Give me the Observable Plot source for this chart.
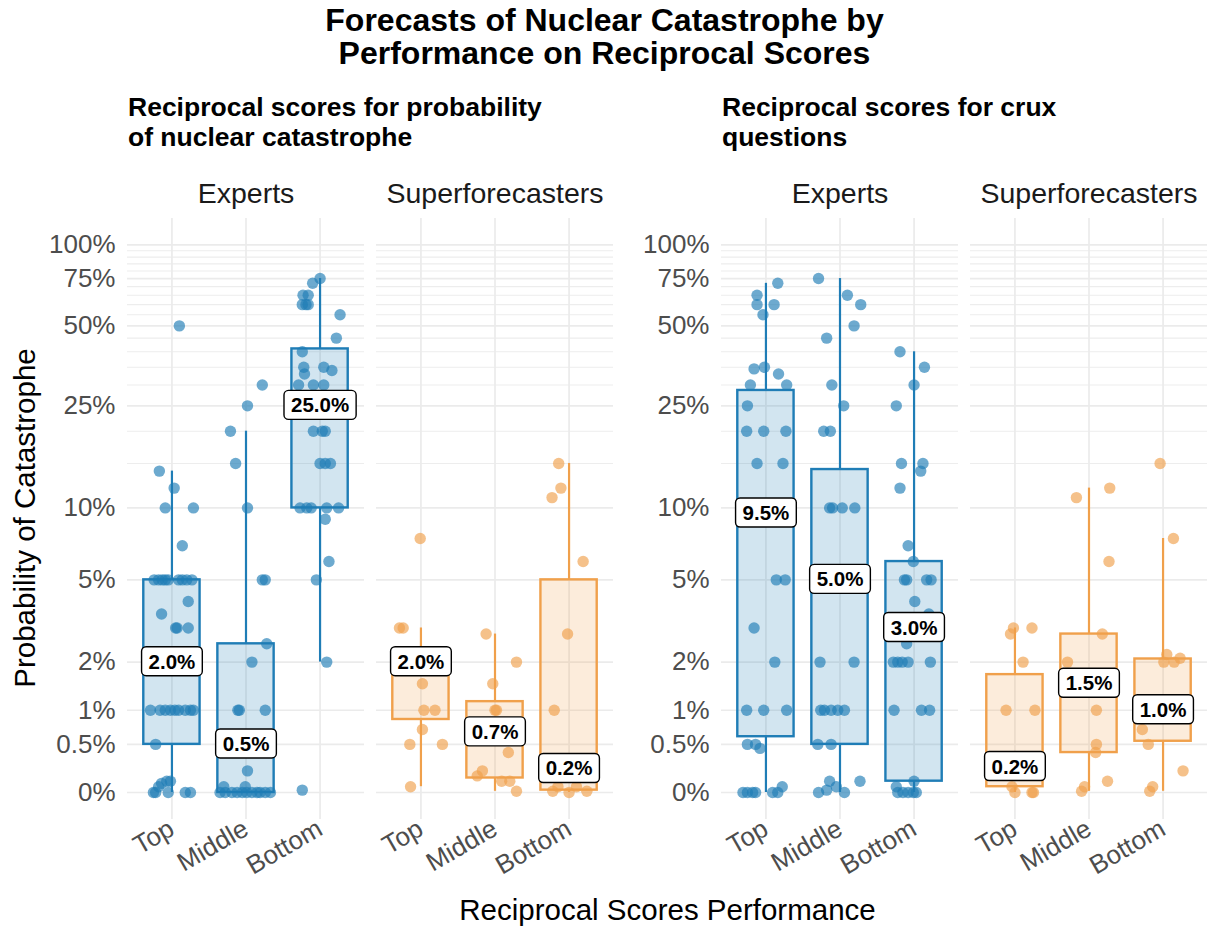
<!DOCTYPE html>
<html>
<head>
<meta charset="utf-8">
<script src="https://cdn.jsdelivr.net/npm/d3@7"></script>
<script src="https://cdn.jsdelivr.net/npm/@observablehq/plot@0.6"></script>
<style>
  body { margin: 0; background: #fff; font-family: "Liberation Sans", Arial, Helvetica, sans-serif; }
  #root { position: relative; width: 1209px; height: 928px; overflow: hidden; background: #fff; }
  .abs { position: absolute; }
  #title { left: 0; width: 1209px; top: 4px; text-align: center; font-weight: bold; font-size: 32px; line-height: 33px; color: #000; }
  .sub { top: 92px; font-weight: bold; font-size: 26.5px; line-height: 30px; color: #000; white-space: nowrap; }
  #ytitle { left: 25px; top: 518px; transform: translate(-50%, -50%) rotate(-90deg); font-size: 29.5px; white-space: nowrap; color: #000; }
  #xtitle { left: 127px; width: 1081px; top: 894px; text-align: center; font-size: 29.5px; line-height: 32px; color: #000; }
</style>
</head>
<body>
<div id="root">
  <div id="title" class="abs">Forecasts of Nuclear Catastrophe by<br>Performance on Reciprocal Scores</div>
  <div class="abs sub" style="left:128px">Reciprocal scores for probability<br>of nuclear catastrophe</div>
  <div class="abs sub" style="left:722px">Reciprocal scores for crux<br>questions</div>
  <div id="panelA" class="abs" style="left:0px; top:160px"></div>
  <div id="panelB" class="abs" style="left:594px; top:160px"></div>
  <div id="ytitle" class="abs">Probability of Catastrophe</div>
  <div id="xtitle" class="abs">Reciprocal Scores Performance</div>
</div>
<script>
// ---------- data ----------
const categories = ["Top", "Middle", "Bottom"];
const groups = ["Experts", "Superforecasters"];
const yTicks = [0, 0.5, 1, 2, 5, 10, 25, 50, 75, 100];
const yMinor = [15, 20, 30, 35, 40, 45, 55, 60, 65, 70, 80, 85, 90, 95];

// points: [forecast %, horizontal jitter in category units]
const probExpertsTop = [[50,0.10],[14,-0.17],[12,0.03],[10,-0.09],[10,0.29],[7,0.14],[5,-0.24],[5,-0.18],[5,-0.13],[5,-0.09],[5,-0.05],[5,0.09],[5,0.14],[5,0.20],[5,0.27],[4,0.22],[3.5,-0.14],[3,0.05],[3,0.07],[3,0.22],[2,0.0],[1,-0.29],[1,-0.16],[1,-0.09],[1,-0.02],[1,0.04],[1,0.09],[1,0.18],[1,0.25],[1,0.29],[0.5,-0.22],[0.1,-0.07],[0.1,-0.02],[0.08,-0.14],[0.05,-0.18],[0,-0.25],[0,-0.22],[0,-0.05],[0,0.18],[0,0.25]];
const probExpertsMiddle = [[30,0.22],[25,0.02],[20,-0.21],[15,-0.14],[10,0.02],[5,0.22],[5,0.26],[2.5,0.28],[2,0.08],[1,-0.11],[1,-0.09],[1,0.26],[0.5,0.0],[0.2,0.02],[0.05,-0.30],[0.05,-0.01],[0,-0.35],[0,-0.28],[0,-0.19],[0,-0.12],[0,-0.05],[0,0.01],[0,0.08],[0,0.15],[0,0.19],[0,0.26],[0,0.33]];
const probExpertsBottom = [[75,0.0],[72,-0.10],[65,-0.23],[65,-0.16],[60,-0.24],[60,-0.19],[60,-0.16],[55,0.27],[45,0.22],[40,-0.24],[35,-0.22],[35,0.05],[34,0.16],[33,-0.21],[30,-0.29],[30,-0.09],[30,0.05],[25,-0.10],[20,-0.09],[20,0.03],[20,0.07],[15,0.0],[15,0.07],[15,0.14],[10,-0.27],[10,-0.18],[10,-0.12],[10,0.09],[10,0.25],[9,0.07],[6,0.12],[5,-0.05],[2,0.09],[0.02,-0.24]];
const probSuperTop = [[7.5,-0.01],[3,-0.29],[3,-0.24],[2,0.09],[1.5,0.02],[1,0.04],[1,0.19],[0.7,0.02],[0.5,-0.15],[0.5,0.29],[0.05,-0.14]];
const probSuperMiddle = [[2.8,-0.12],[2,0.29],[1.5,-0.03],[1,0.0],[1,0.02],[0.7,0.06],[0.4,0.18],[0.2,-0.17],[0.15,-0.24],[0.1,0.09],[0.1,0.20],[0.01,0.29]];
const probSuperBottom = [[15,-0.14],[12,-0.11],[11,-0.23],[6,0.19],[2.8,-0.02],[1,-0.20],[0.2,0.0],[0.01,-0.22],[0.05,-0.15],[0,0.0],[0.05,0.10],[0.01,0.24]];

const cruxExpertsTop = [[72,0.16],[65,-0.12],[60,-0.12],[60,0.11],[55,-0.04],[35,-0.02],[34.5,-0.16],[33,0.17],[30,-0.21],[30,0.28],[25,-0.25],[20,-0.26],[20,-0.03],[20,0.27],[15,-0.12],[15,0.23],[9.5,0.0],[5,0.14],[5,0.26],[3,-0.16],[2,0.12],[1,-0.26],[1,-0.03],[1,0.28],[0.5,-0.25],[0.5,-0.14],[0.45,-0.08],[0.05,0.22],[0,-0.31],[0,-0.25],[0,-0.18],[0,-0.14],[0,0.09],[0,0.16]];
const cruxExpertsMiddle = [[75,-0.29],[65,0.10],[60,0.28],[50,0.19],[45,-0.18],[30,-0.11],[25,0.05],[20,-0.22],[20,-0.13],[10,-0.14],[10,-0.10],[10,0.03],[10,0.20],[5,0.0],[2,-0.27],[2,0.19],[1,-0.26],[1,-0.21],[1,-0.12],[1,-0.03],[1,0.06],[0.5,-0.30],[0.5,-0.12],[0.1,-0.14],[0.05,-0.05],[0.1,0.27],[0,-0.29],[0.02,-0.18],[0,0.06]];
const cruxExpertsBottom = [[40,-0.19],[35,0.14],[30,0.0],[25,-0.24],[15,-0.17],[15,0.12],[14,0.09],[12,-0.19],[7,-0.08],[6,-0.01],[5,-0.13],[5,-0.10],[5,0.17],[5,0.23],[4,0.01],[3.5,0.20],[3,0.0],[2.5,-0.10],[2,-0.28],[2,-0.22],[2,-0.16],[2,-0.08],[2,0.22],[1,-0.27],[1,0.10],[1,0.21],[0.1,0.0],[0.05,-0.24],[0,-0.22],[0,-0.15],[0,-0.08],[0,-0.01],[0,0.03]];
const cruxSuperTop = [[3,-0.02],[3,0.23],[2.8,-0.06],[2,0.11],[1,-0.12],[1,0.27],[0.24,0.0],[0.05,-0.04],[0,0.0],[0,0.23],[0,0.25]];
const cruxSuperMiddle = [[12,0.28],[11,-0.17],[6,0.27],[2.8,0.18],[2,-0.29],[1.5,0.0],[1,0.10],[0.5,0.10],[0.4,0.09],[0.1,0.25],[0.05,-0.06],[0.01,-0.10]];
const cruxSuperBottom = [[15,-0.04],[7.5,0.14],[2.2,0.05],[2.1,0.23],[2,0.01],[2,0.15],[1,0.0],[0.7,-0.28],[0.5,-0.20],[0.2,0.27],[0.05,-0.14],[0.01,-0.18]];

// box statistics: [group, category, whisker low, Q1, median, Q3, whisker high] (in %)
const probStats = [
  ["Experts", "Top", 0, 0.5, 2.0, 5, 14],
  ["Experts", "Middle", 0, 0, 0.5, 2.5, 20],
  ["Experts", "Bottom", 2, 10, 25, 41, 75],
  ["Superforecasters", "Top", 0.05, 0.85, 2.0, 2.2, 3],
  ["Superforecasters", "Middle", 0.01, 0.13, 0.66, 1.15, 2.8],
  ["Superforecasters", "Bottom", 0, 0.02, 0.22, 5, 15]
];
const cruxStats = [
  ["Experts", "Top", 0, 0.6, 9.5, 28.6, 72],
  ["Experts", "Middle", 0, 0.5, 5.0, 14.2, 75],
  ["Experts", "Bottom", 0, 0.1, 3.0, 6, 40],
  ["Superforecasters", "Top", 0, 0.05, 0.24, 1.7, 3],
  ["Superforecasters", "Middle", 0.01, 0.4, 1.5, 2.8, 12],
  ["Superforecasters", "Bottom", 0.01, 0.54, 1.0, 2.08, 7.5]
];

const groupColors = ["#1f7db6", "#f0a04b"];

// ---------- drawing ----------
const FONT = '"Liberation Sans", Arial, Helvetica, sans-serif';
const boxHalf = 0.38;

function buildPanel(stats, pointSets) {
  const pts = [];
  for (const [group, cat, arr] of pointSets) {
    const i = categories.indexOf(cat);
    for (const [v, j] of arr) pts.push({group, x: i + j, v});
  }
  const st = stats.map(([group, cat, lo, q1, med, q3, hi]) =>
    ({group, idx: categories.indexOf(cat), lo, q1, med, q3, hi}));
  return Plot.plot({
    width: 614, height: 720,
    marginLeft: 127, marginRight: 0, marginTop: 58, marginBottom: 61,
    style: {fontFamily: FONT, background: "transparent", overflow: "visible"},
    fx: {domain: groups, paddingInner: 0.048, paddingOuter: 0},
    x: {domain: [-0.6, 2.6]},
    y: {type: "symlog", constant: 1, domain: [-0.2555, 125.05]},
    color: {domain: groups, range: groupColors},
    marks: [
      Plot.gridY({ticks: yMinor, stroke: "#ededed", strokeOpacity: 1, strokeWidth: 1.1}),
      Plot.gridY({ticks: yTicks, stroke: "#ebebeb", strokeOpacity: 1, strokeWidth: 1.7}),
      Plot.gridX({ticks: [0, 1, 2], stroke: "#ebebeb", strokeOpacity: 1, strokeWidth: 1.7}),
      Plot.ruleX(st, {x: "idx", y1: "q3", y2: "hi", fx: "group", stroke: "group", strokeWidth: 2.2}),
      Plot.ruleX(st, {x: "idx", y1: "lo", y2: "q1", fx: "group", stroke: "group", strokeWidth: 2.2}),
      Plot.rect(st, {x1: d => d.idx - boxHalf, x2: d => d.idx + boxHalf, y1: "q1", y2: "q3", fx: "group",
        fill: "group", fillOpacity: 0.2, stroke: "group", strokeWidth: 2.4}),
      Plot.dot(pts, {x: "x", y: "v", fx: "group", fill: "group", fillOpacity: 0.65, r: 5.7}),
      Plot.text(st, {x: "idx", y: "med", fx: "group", text: d => d.med.toFixed(1) + "%",
        fontWeight: "bold", fontSize: 20.5, fill: "black"}),
      Plot.axisY({ticks: yTicks, tickFormat: d => d + "%", tickSize: 0, tickPadding: 12,
        fontSize: 26, fill: "#4d4d4d", label: null}),
      Plot.axisX({ticks: [0, 1, 2], tickFormat: i => categories[i], tickSize: 0, tickPadding: 7,
        tickRotate: -30, fontSize: 26, fill: "#4d4d4d", label: null}),
      Plot.axisFx({anchor: "top", tickSize: 0, tickPadding: 16, fontSize: 28.5, fill: "#1a1a1a", label: null})
    ]
  });
}

function boxLabels(svg) {
  svg.querySelectorAll('g[aria-label="text"] text').forEach(t => {
    const b = t.getBBox();
    const r = document.createElementNS("http://www.w3.org/2000/svg", "rect");
    r.setAttribute("x", b.x - 7);
    r.setAttribute("y", b.y - 3);
    r.setAttribute("width", b.width + 14);
    r.setAttribute("height", b.height + 6);
    r.setAttribute("rx", 4.5);
    r.setAttribute("fill", "white");
    r.setAttribute("stroke", "black");
    r.setAttribute("stroke-width", 1.4);
    const tr = t.getAttribute("transform");
    if (tr) r.setAttribute("transform", tr);
    t.parentNode.insertBefore(r, t);
  });
}

const panelA = buildPanel(probStats, [
  ["Experts", "Top", probExpertsTop], ["Experts", "Middle", probExpertsMiddle], ["Experts", "Bottom", probExpertsBottom],
  ["Superforecasters", "Top", probSuperTop], ["Superforecasters", "Middle", probSuperMiddle], ["Superforecasters", "Bottom", probSuperBottom]
]);
const panelB = buildPanel(cruxStats, [
  ["Experts", "Top", cruxExpertsTop], ["Experts", "Middle", cruxExpertsMiddle], ["Experts", "Bottom", cruxExpertsBottom],
  ["Superforecasters", "Top", cruxSuperTop], ["Superforecasters", "Middle", cruxSuperMiddle], ["Superforecasters", "Bottom", cruxSuperBottom]
]);
document.getElementById("panelA").appendChild(panelA);
document.getElementById("panelB").appendChild(panelB);
boxLabels(panelA);
boxLabels(panelB);
</script>
</body>
</html>
